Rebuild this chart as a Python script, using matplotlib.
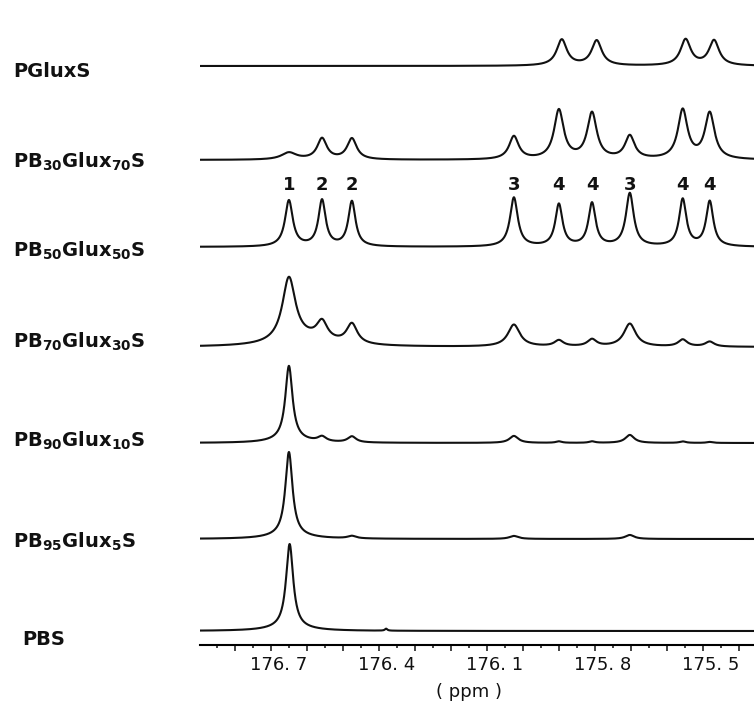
import numpy as np
import matplotlib
matplotlib.use('Agg')
import matplotlib.pyplot as plt

# carbonyl region, peak positions (ppm) shared by the copolymers
shift_ppm = [176.750, 176.658, 176.575, 176.125, 176.000, 175.908, 175.803, 175.656, 175.581]
peak_ids = ['1', '2', '2', '3', '4', '4', '3', '4', '4']

# PGluxS homopolymer sits a little upfield
pglux_ppm = [175.992, 175.895, 175.648, 175.569]
pglux_int = [26, 25, 26, 25]
pglux_hw = [0.017, 0.017, 0.017, 0.017]

pb30_int = [7, 21, 21, 23, 49, 46, 23, 49, 46]
pb30_hw = [0.025, 0.016, 0.016, 0.016, 0.016, 0.016, 0.016, 0.016, 0.016]

pb50_int = [46, 46, 45, 49, 42, 43, 53, 47, 45]
pb50_hw = [0.013, 0.012, 0.012, 0.013, 0.012, 0.012, 0.013, 0.012, 0.012]

pb70_int = [64, 18, 20, 22, 6, 7, 23, 7, 5]
pb70_hw = [0.022, 0.018, 0.018, 0.020, 0.015, 0.015, 0.020, 0.015, 0.015]

pb90_int = [74, 5, 6, 7, 1.5, 1.5, 8, 1.5, 1]
pb90_hw = [0.012, 0.014, 0.014, 0.015, 0.01, 0.01, 0.015, 0.01, 0.01]

pb95_int = [84, 0, 2.5, 3, 0, 0, 4, 0, 0]
pb95_hw = [0.012, 0.014, 0.014, 0.015, 0.01, 0.01, 0.015, 0.01, 0.01]

pbs_ppm = [176.748, 176.480]
pbs_int = [84, 2]
pbs_hw = [0.012, 0.004]

# broad underlying hump of the PBS carbonyl (ppm, height, half width)
pb70_broad = [176.70, 7, 0.09]
pb90_broad = [176.75, 3, 0.06]
pb95_broad = [176.75, 3, 0.07]
pbs_broad = [176.75, 3, 0.07]

names = [r'PGluxS', r'$\mathbf{PB_{30}Glux_{70}S}$', r'$\mathbf{PB_{50}Glux_{50}S}$',
         r'$\mathbf{PB_{70}Glux_{30}S}$', r'$\mathbf{PB_{90}Glux_{10}S}$',
         r'$\mathbf{PB_{95}Glux_{5}S}$', 'PBS']

tick_pos = [176.7, 176.4, 176.1, 175.8, 175.5]
tick_text = ['176. 7', '176. 4', '176. 1', '175. 8', '175. 5']


def lorentz(x, x0, h, w):
    return h / (1.0 + ((x - x0) / w) ** 2)


def spectrum(x, pos, heights, widths, broad=None):
    y = np.zeros_like(x)
    for p, h, w in zip(pos, heights, widths):
        y += lorentz(x, p, h, w)
    if broad is not None:
        y += lorentz(x, *broad)
    return y


x = np.linspace(177.05, 175.40, 3000)
traces = [
    spectrum(x, pglux_ppm, pglux_int, pglux_hw),
    spectrum(x, shift_ppm, pb30_int, pb30_hw),
    spectrum(x, shift_ppm, pb50_int, pb50_hw),
    spectrum(x, shift_ppm, pb70_int, pb70_hw, pb70_broad),
    spectrum(x, shift_ppm, pb90_int, pb90_hw, pb90_broad),
    spectrum(x, shift_ppm, pb95_int, pb95_hw, pb95_broad),
    spectrum(x, pbs_ppm, pbs_int, pbs_hw, pbs_broad),
]

# vertical stacking (baseline pixel rows, axis line at 645)
H = 645.0
base_px = [66, 160, 247, 347, 443, 539, 631]
label_px = [77, 168, 257, 348, 447, 548, 645]
label_x = [13, 13, 13, 13, 13, 13, 22]

plt.rcParams['font.family'] = ['DejaVu Sans']
plt.rcParams['mathtext.fontset'] = 'dejavusans'

fig = plt.figure(figsize=(7.54, 7.02), dpi=100)
ax = fig.add_axes([200 / 754, 57 / 702, 554 / 754, 645 / 702])

for tr, b in zip(traces, base_px):
    ax.plot(x, (H - b) + tr, color='#111111', lw=1.5, solid_joinstyle='round')

for name, ly, lx in zip(names, label_px, label_x):
    fig.text(lx / 754, 1 - ly / 702, name, fontsize=14, fontweight='bold',
             ha='left', va='baseline', color='#111111')

# peak assignments above PB50Glux50S
for p, s in zip(shift_ppm, peak_ids):
    ax.text(p, H - 185, s, fontsize=13, fontweight='bold', ha='center',
            va='center', color='#111111')

ax.set_xlim(176.997, 175.458)
ax.set_ylim(0, H)
for side in ['top', 'right', 'left']:
    ax.spines[side].set_visible(False)
ax.spines['bottom'].set_linewidth(1.5)
ax.set_yticks([])

majors = np.round(np.arange(176.9, 175.45, -0.1), 2)
labels = []
for m in majors:
    lab = ''
    for tp, tt in zip(tick_pos, tick_text):
        if abs(m - tp) < 1e-6:
            lab = tt
    labels.append(lab)
ax.set_xticks(majors, labels)
ax.set_xticks(np.round(np.arange(176.95, 175.45, -0.1), 2), minor=True)
for lbl in ax.get_xticklabels():
    lbl.set_horizontalalignment('right')
ax.tick_params(axis='x', which='major', length=4.5, width=1.1, pad=3.5,
               labelsize=13, colors='#111111')
ax.tick_params(axis='x', which='minor', length=2.5, width=1.1, colors='#111111')

fig.text(469 / 754, 1 - 692 / 702, '( ppm )', fontsize=13, ha='center',
         va='center', color='#111111')

fig.savefig('out.png', dpi=100)
